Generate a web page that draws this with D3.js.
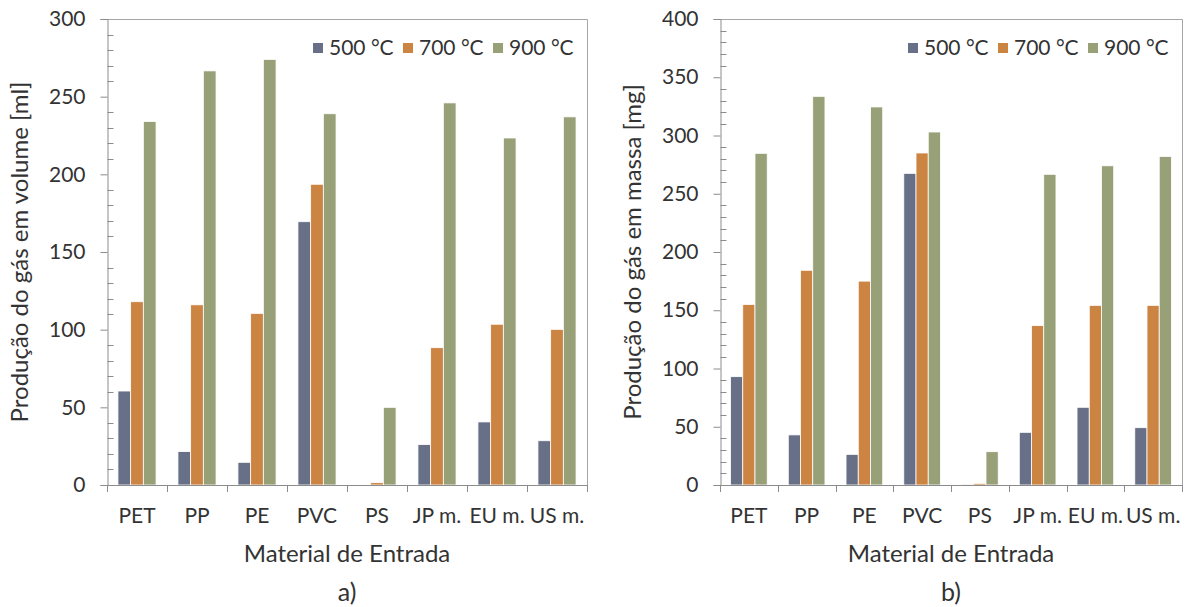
<!DOCTYPE html>
<html>
<head>
<meta charset="utf-8">
<script src="https://cdn.jsdelivr.net/npm/d3@7"></script>
<style>
  body { margin: 0; background: #fff; }
  text { font-family: Lato, "Open Sans", sans-serif; fill: #333; }
</style>
</head>
<body>
<script>
// categories and series
var categories = ["PET", "PP", "PE", "PVC", "PS", "JP m.", "EU m.", "US m."];
var series = ["500 °C", "700 °C", "900 °C"];
var colors = ["#677087", "#cc8443", "#98a078"];

// gas volume [ml] per temperature
var volume500 = [60.5, 21.5, 14.6, 169.5, 0.3, 26, 40.6, 28.5];
var volume700 = [118, 116, 110.5, 193.6, 1.5, 88.4, 103.5, 100.2];
var volume900 = [234, 266.6, 274, 239, 50, 246, 223.4, 237];

// gas mass [mg] per temperature
var mass500 = [93, 43, 26.3, 267.5, 0.3, 45.2, 66.7, 49.2];
var mass700 = [155, 184.3, 175, 285, 1.4, 136.8, 154.2, 154.2];
var mass900 = [284.7, 333.6, 324.5, 303, 28.6, 266.7, 274, 282];

var width = 1192, height = 607;

var svg = d3.select("body").append("svg")
            .attr("width", width)
            .attr("height", height);

function drawChart(opt) {
  var g = svg.append("g");
  var top = 19, bottom = 485;

  var x = d3.scaleBand()
            .domain(categories)
            .range([opt.left, opt.right]);
  var bw = x.bandwidth();
  var group = bw * 0.635;
  var x1 = d3.scaleBand()
             .domain(series)
             .range([(bw - group) / 2, (bw + group) / 2]);
  var y = d3.scaleLinear()
            .domain([0, opt.max])
            .range([bottom, top]);

  // frame (top + right)
  g.append("path")
   .attr("d", "M" + opt.left + "," + (top + 0.5) + "H" + (opt.right + 0.5) + "V" + bottom)
   .attr("fill", "none")
   .attr("stroke", "#a6a6a6");

  // bars
  var rows = categories.map(function(c, i) {
    return series.map(function(s, j) {
      return {cat: c, s: s, v: opt.values[j][i], c: colors[j]};
    });
  });
  g.selectAll("g.cat")
   .data(rows)
   .enter().append("g")
   .attr("class", "cat")
   .attr("transform", function(d) { return "translate(" + x(d[0].cat) + ",0)"; })
   .selectAll("rect")
   .data(function(d) { return d; })
   .enter().append("rect")
   .attr("x", function(d) { return x1(d.s); })
   .attr("y", function(d) { return y(d.v); })
   .attr("width", x1.bandwidth())
   .attr("height", function(d) { return bottom - y(d.v); })
   .attr("fill", function(d) { return d.c; })
   .attr("stroke", "#fff")
   .attr("stroke-width", 0.8);

  // y axis: major ticks outside, minor ticks inside
  var yAxis = g.append("g")
               .attr("transform", "translate(" + (opt.left + 0.5) + ",0)")
               .call(d3.axisLeft(y)
                       .tickValues(d3.range(0, opt.max + 1, 50))
                       .tickSize(7)
                       .tickPadding(15));
  yAxis.select(".domain").attr("stroke", "#8c8c8c");
  yAxis.selectAll(".tick line").attr("stroke", "#8c8c8c");
  yAxis.selectAll(".tick text")
       .attr("font-size", 21)
       .attr("font-family", "Lato")
       .attr("fill", "#333");

  var minor = d3.range(0, opt.max + 1, 10).filter(function(v) { return v % 50 != 0; });
  g.selectAll("line.minor")
   .data(minor)
   .enter().append("line")
   .attr("class", "minor")
   .attr("x1", opt.left + 0.5)
   .attr("x2", opt.left + 6.5)
   .attr("y1", function(d) { return Math.round(y(d)) + 0.5; })
   .attr("y2", function(d) { return Math.round(y(d)) + 0.5; })
   .attr("stroke", "#8c8c8c");

  // x axis with ticks on band boundaries
  g.append("line")
   .attr("x1", opt.left).attr("x2", opt.right + 0.5)
   .attr("y1", bottom + 0.5).attr("y2", bottom + 0.5)
   .attr("stroke", "#8c8c8c");
  var bounds = categories.map(function(c) { return x(c); }).concat([opt.right]);
  g.selectAll("line.xt")
   .data(bounds)
   .enter().append("line")
   .attr("class", "xt")
   .attr("x1", function(d) { return Math.round(d) + 0.5; })
   .attr("x2", function(d) { return Math.round(d) + 0.5; })
   .attr("y1", bottom)
   .attr("y2", bottom + 7)
   .attr("stroke", "#8c8c8c");
  g.selectAll("text.cat")
   .data(categories)
   .enter().append("text")
   .attr("class", "cat")
   .attr("x", function(d) { return x(d) + bw / 2; })
   .attr("y", 523)
   .attr("text-anchor", "middle")
   .attr("font-size", 21)
   .text(function(d) { return d; });

  // titles
  var cx = (opt.left + opt.right) / 2;
  g.append("text")
   .attr("x", cx).attr("y", 562)
   .attr("text-anchor", "middle")
   .attr("font-size", 24)
   .text("Material de Entrada");
  g.append("text")
   .attr("x", cx).attr("y", 601)
   .attr("text-anchor", "middle")
   .attr("font-size", 25)
   .text(opt.tag);
  g.append("text")
   .attr("transform", "translate(" + opt.titleX + "," + ((top + bottom) / 2) + ") rotate(-90)")
   .attr("text-anchor", "middle")
   .attr("font-size", 24)
   .text(opt.title);

  // legend
  var legendX = opt.right - 274;
  var legend = g.selectAll("g.legend")
                .data(series)
                .enter().append("g")
                .attr("class", "legend")
                .attr("transform", function(d, i) { return "translate(" + (legendX + i * 90) + ",0)"; });
  legend.append("rect")
        .attr("x", 0).attr("y", 43)
        .attr("width", 10).attr("height", 10)
        .attr("fill", function(d, i) { return colors[i]; });
  legend.append("text")
        .attr("x", 16).attr("y", 55)
        .attr("font-size", 21)
        .text(function(d) { return d; });
}

drawChart({
  left: 107, right: 587, max: 300, titleX: 28, tag: "a)",
  title: "Produção do gás em volume [ml]",
  values: [volume500, volume700, volume900]
});

drawChart({
  left: 720, right: 1182, max: 400, titleX: 641, tag: "b)",
  title: "Produção do gás em massa [mg]",
  values: [mass500, mass700, mass900]
});
</script>
</body>
</html>
